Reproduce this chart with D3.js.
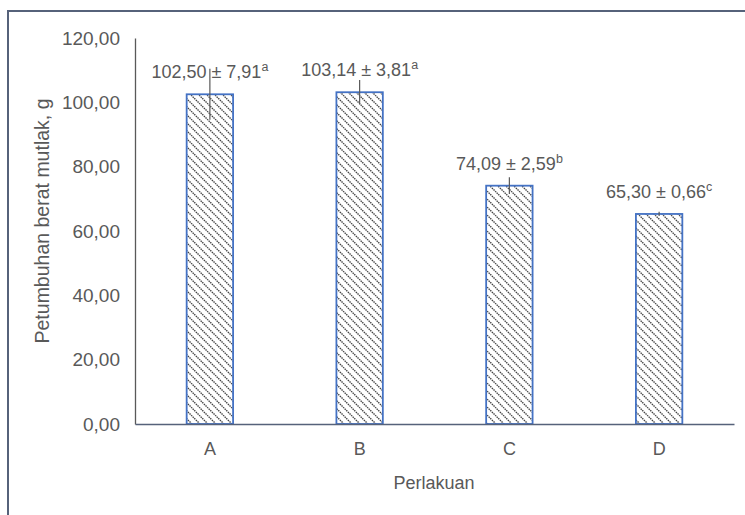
<!DOCTYPE html>
<html>
<head>
<meta charset="utf-8">
<script src="https://cdn.jsdelivr.net/npm/d3@7"></script>
<style>
  body { margin: 0; background: #fff; }
  text { font-family: "Liberation Sans", Arial, sans-serif; fill: #595959; }
</style>
</head>
<body>
<svg class="chart"></svg>
<script>

// data
var categories = ["A", "B", "C", "D"];
var means = [102.50, 103.14, 74.09, 65.30];
var errors = [7.91, 3.81, 2.59, 0.66];
var letters = ["a", "a", "b", "c"];
var yTicks = [0, 20, 40, 60, 80, 100, 120];

var width = 745,
    height = 515;

var svg = d3.select(".chart")
    .attr("width", width)
    .attr("height", height);

// outer frame
svg.append("rect")
    .attr("x", 8)
    .attr("y", 11)
    .attr("width", 760)
    .attr("height", 520)
    .attr("fill", "none")
    .attr("stroke", "#56627a")
    .attr("stroke-width", 2);

// hatch pattern (wide downward diagonal)
var defs = svg.append("defs");
var pat = defs.append("pattern")
    .attr("id", "hatch")
    .attr("patternUnits", "userSpaceOnUse")
    .attr("width", 8)
    .attr("height", 8);
pat.append("rect").attr("width", 8).attr("height", 8).attr("fill", "#fff");
pat.append("path")
    .attr("d", "M-1,-1 L9,9 M-1,7 L1,9 M7,-1 L9,1")
    .attr("stroke", "#444")
    .attr("stroke-width", 1.4)
    .attr("stroke-dasharray", "1.5,0.8");

var x = d3.scaleBand()
    .domain(categories)
    .range([135, 734])
    .paddingInner(0.69)
    .paddingOuter(0.345);

var y = d3.scaleLinear()
    .domain([0, 120])
    .range([424, 38]);

// y axis
var yAxis = svg.append("g")
    .attr("transform", "translate(135,0)")
    .call(d3.axisLeft(y)
        .tickValues(yTicks)
        .tickSize(0)
        .tickPadding(15)
        .tickFormat(function(d) { return d3.format(".2f")(d).replace(".", ","); }));
yAxis.select(".domain").attr("stroke", "#595959").attr("stroke-width", 1.3);
yAxis.selectAll("text")
    .style("font-size", "19px")
    .attr("fill", "#595959");

// bars
svg.selectAll(".bar")
    .data(means)
    .enter()
    .append("rect")
    .attr("class", "bar")
    .attr("x", function(d, i) { return x(categories[i]); })
    .attr("y", function(d) { return y(d); })
    .attr("width", x.bandwidth())
    .attr("height", function(d) { return y(0) - y(d); })
    .attr("fill", "url(#hatch)")
    .attr("stroke", "#4472c4")
    .attr("stroke-width", 1.8);

// x axis
var xAxis = svg.append("g")
    .attr("transform", "translate(0,424)")
    .call(d3.axisBottom(x).tickSize(0).tickPadding(18));
xAxis.select(".domain").attr("stroke", "#56627a").attr("stroke-width", 1.5);
xAxis.selectAll("text")
    .style("font-size", "18px")
    .attr("fill", "#595959");

// error bars
svg.selectAll(".err")
    .data(means)
    .enter()
    .append("line")
    .attr("class", "err")
    .attr("x1", function(d, i) { return x(categories[i]) + x.bandwidth() / 2; })
    .attr("x2", function(d, i) { return x(categories[i]) + x.bandwidth() / 2; })
    .attr("y1", function(d, i) { return y(d + errors[i]); })
    .attr("y2", function(d, i) { return y(d - errors[i]); })
    .attr("stroke", "#595959")
    .attr("stroke-width", 1.2);

// value labels
var labels = svg.selectAll(".lbl")
    .data(means)
    .enter()
    .append("text")
    .attr("class", "lbl")
    .attr("x", function(d, i) { return x(categories[i]) + x.bandwidth() / 2; })
    .attr("y", function(d) { return y(d) - 16; })
    .attr("text-anchor", "middle")
    .style("font-size", "18px");
labels.append("tspan")
    .text(function(d, i) {
        return d3.format(".2f")(d).replace(".", ",") + " \u00b1 " + d3.format(".2f")(errors[i]).replace(".", ",");
    });
labels.append("tspan")
    .attr("dy", -7)
    .style("font-size", "12.5px")
    .text(function(d, i) { return letters[i]; });

// axis titles
svg.append("text")
    .attr("transform", "translate(49,221) rotate(-90)")
    .attr("text-anchor", "middle")
    .style("font-size", "19.5px")
    .text("Petumbuhan berat mutlak, g");

svg.append("text")
    .attr("x", 434)
    .attr("y", 489)
    .attr("text-anchor", "middle")
    .style("font-size", "18px")
    .text("Perlakuan");

</script>
</body>
</html>
